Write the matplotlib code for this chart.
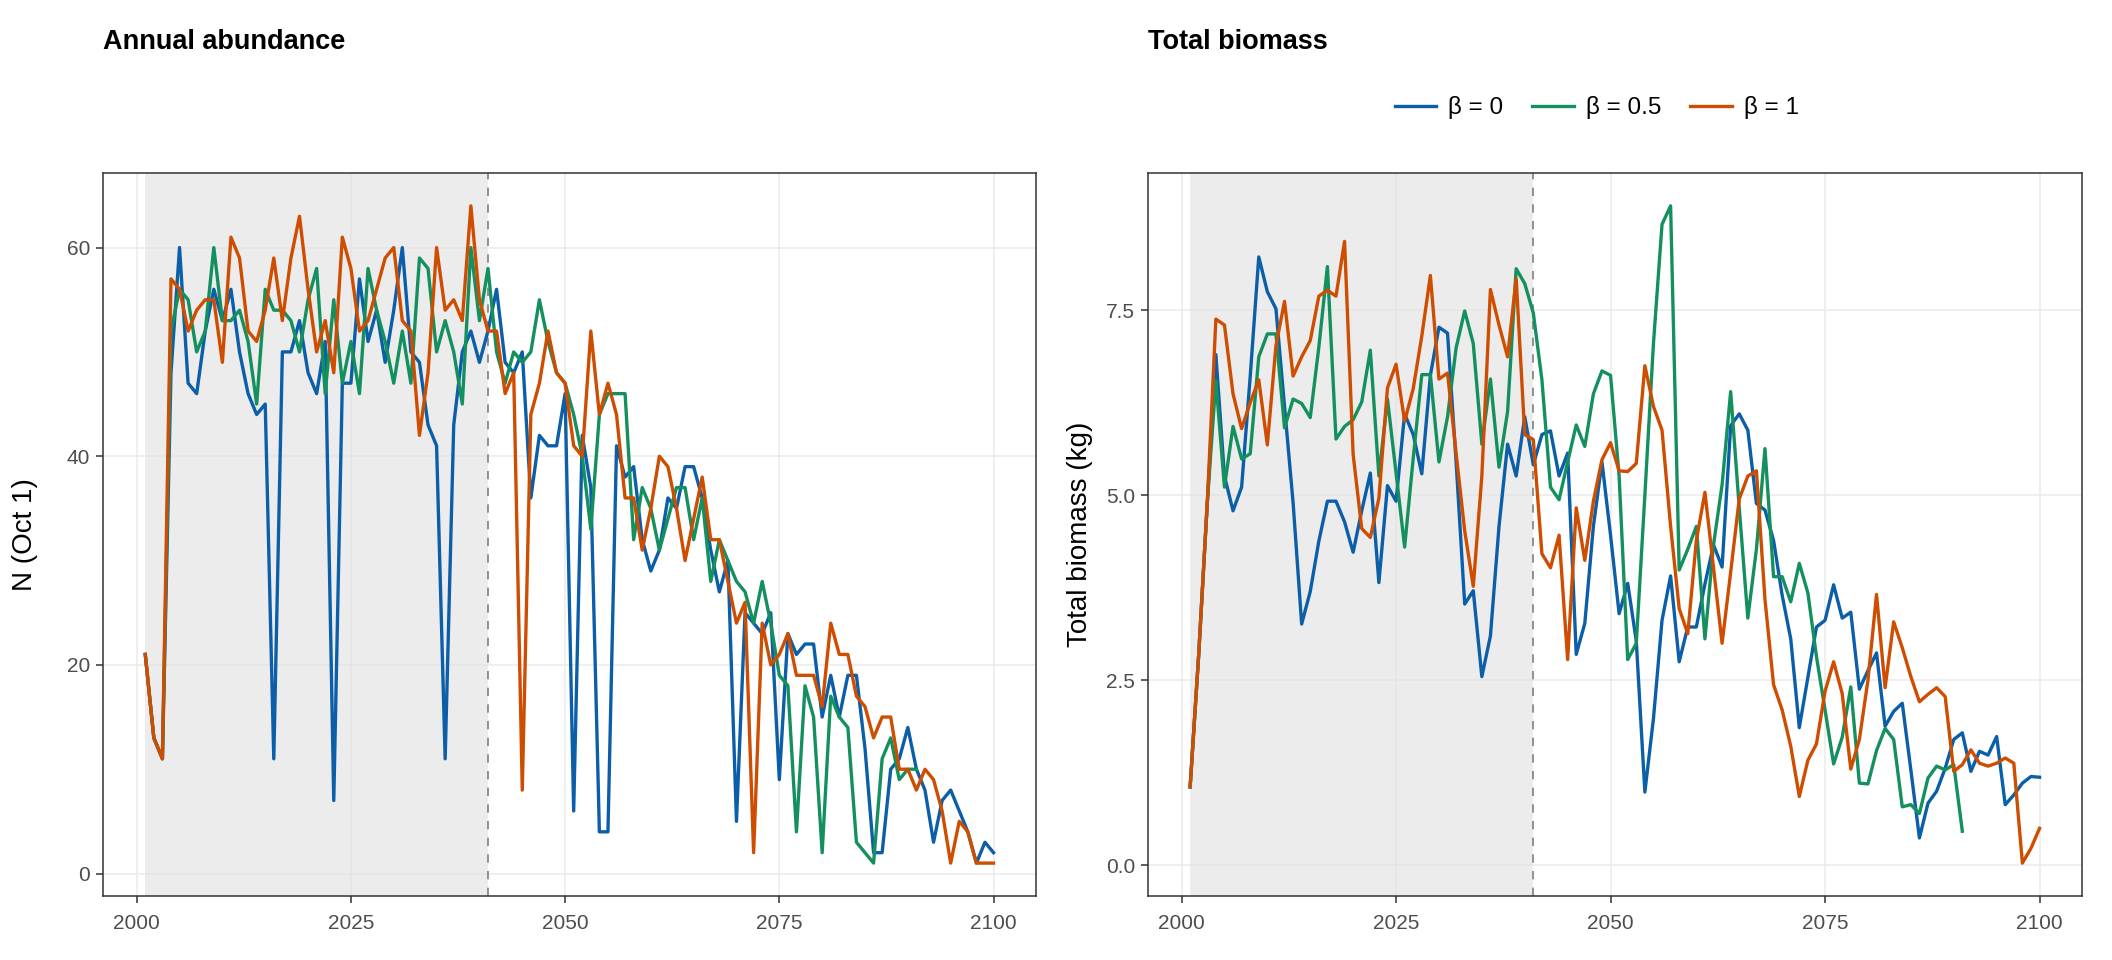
import matplotlib.pyplot as plt
from matplotlib.lines import Line2D

plt.rcParams['font.family'] = ['Liberation Sans', 'DejaVu Sans']

# Data
years = list(range(2001, 2101))
projection_start = 2041

abund_b0 = [21, 13, 11, 48, 60, 47, 46, 52, 56, 53,
            56, 50, 46, 44, 45, 11, 50, 50, 53, 48,
            46, 51, 7, 47, 47, 57, 51, 54, 49, 54,
            60, 50, 49, 43, 41, 11, 43, 50, 52, 49,
            52, 56, 49, 48, 50, 36, 42, 41, 41, 46,
            6, 42, 37, 4, 4, 41, 38, 39, 32, 29,
            31, 36, 35, 39, 39, 36, 31, 27, 30, 5,
            25, 24, 23, 25, 9, 23, 21, 22, 22, 15,
            19, 15, 19, 19, 12, 2, 2, 10, 11, 14,
            10, 8, 3, 7, 8, 6, 4, 1, 3, 2]
abund_b05 = [21, 13, 11, 52, 56, 55, 50, 52, 60, 53,
             53, 54, 51, 45, 56, 54, 54, 53, 50, 55,
             58, 46, 55, 47, 51, 46, 58, 54, 51, 47,
             52, 47, 59, 58, 50, 53, 50, 45, 60, 53,
             58, 50, 47, 50, 49, 50, 55, 51, 48, 47,
             44, 40, 33, 44, 46, 46, 46, 32, 37, 35,
             31, 34, 37, 37, 32, 36, 28, 32, 30, 28,
             27, 24, 28, 24, 19, 18, 4, 18, 15, 2,
             17, 15, 14, 3, 2, 1, 11, 13, 9, 10, 10]
abund_b1 = [21, 13, 11, 57, 56, 52, 54, 55, 55, 49,
            61, 59, 52, 51, 54, 59, 53, 59, 63, 56,
            50, 53, 48, 61, 58, 52, 53, 56, 59, 60,
            53, 52, 42, 48, 60, 54, 55, 53, 64, 55,
            52, 52, 46, 48, 8, 44, 47, 52, 48, 47,
            41, 40, 52, 44, 47, 44, 36, 36, 31, 35,
            40, 39, 35, 30, 34, 38, 32, 32, 28, 24,
            26, 2, 24, 20, 21, 23, 19, 19, 19, 16,
            24, 21, 21, 17, 16, 13, 15, 15, 10, 10,
            8, 10, 9, 6, 1, 5, 4, 1, 1, 1]

biomass_b0 = [1.06, 2.85, 4.9, 6.9, 5.26, 4.79, 5.11, 6.6, 8.22, 7.75,
              7.52, 6.2, 4.9, 3.26, 3.7, 4.38, 4.92, 4.92, 4.64, 4.23,
              4.79, 5.3, 3.82, 5.13, 4.92, 6.1, 5.82, 5.29, 6.62, 7.27,
              7.19, 5.45, 3.53, 3.71, 2.55, 3.1, 4.58, 5.69, 5.26, 6.06,
              5.41, 5.82, 5.87, 5.26, 5.57, 2.85, 3.27, 4.58, 5.45, 4.46,
              3.4, 3.81, 3.03, 0.99, 1.98, 3.31, 3.91, 2.75, 3.22, 3.22,
              3.8, 4.33, 4.03, 5.94, 6.1, 5.88, 4.89, 4.8, 4.39, 3.65,
              3.06, 1.86, 2.54, 3.22, 3.31, 3.79, 3.34, 3.42, 2.38, 2.63,
              2.87, 1.88, 2.08, 2.19, 1.29, 0.37, 0.84, 1.0, 1.31, 1.7,
              1.79, 1.27, 1.54, 1.49, 1.74, 0.82, 0.95, 1.11, 1.2, 1.19]
biomass_b05 = [1.06, 2.85, 4.9, 6.55, 5.11, 5.93, 5.49, 5.56, 6.87, 7.18,
               7.18, 5.91, 6.3, 6.24, 6.05, 7.0, 8.09, 5.76, 5.93, 6.02,
               6.26, 6.96, 5.26, 6.3, 5.3, 4.3, 5.5, 6.63, 6.63, 5.45,
               6.06, 6.99, 7.49, 7.05, 5.69, 6.57, 5.38, 6.13, 8.06, 7.86,
               7.46, 6.56, 5.11, 4.94, 5.45, 5.95, 5.66, 6.37, 6.68, 6.62,
               5.26, 2.78, 3.0, 5.0, 7.05, 8.66, 8.91, 3.99, 4.27, 4.58,
               3.06, 4.33, 5.14, 6.4, 4.83, 3.34, 4.27, 5.63, 3.9, 3.9,
               3.56, 4.08, 3.68, 2.82, 2.1, 1.37, 1.73, 2.41, 1.11, 1.1,
               1.55, 1.85, 1.7, 0.79, 0.82, 0.7, 1.18, 1.34, 1.29, 1.36, 0.46]
biomass_b1 = [1.06, 2.85, 4.9, 7.38, 7.3, 6.37, 5.9, 6.25, 6.56, 5.68,
              7.02, 7.62, 6.61, 6.87, 7.09, 7.69, 7.77, 7.69, 8.43, 5.55,
              4.55, 4.43, 4.96, 6.45, 6.77, 6.0, 6.44, 7.15, 7.97, 6.57,
              6.65, 5.57, 4.52, 3.77, 5.26, 7.78, 7.3, 6.87, 7.93, 5.82,
              5.75, 4.21, 4.02, 4.46, 2.78, 4.83, 4.12, 4.92, 5.48, 5.71,
              5.33, 5.32, 5.43, 6.75, 6.2, 5.88, 4.58, 3.47, 3.13, 4.39,
              5.04, 4.02, 3.0, 3.96, 4.95, 5.26, 5.33, 3.59, 2.44, 2.1,
              1.61, 0.93, 1.42, 1.64, 2.35, 2.75, 2.32, 1.3, 1.7, 2.5,
              3.66, 2.4, 3.29, 2.94, 2.55, 2.21, 2.31, 2.4, 2.28, 1.27,
              1.36, 1.56, 1.38, 1.34, 1.38, 1.45, 1.38, 0.03, 0.23, 0.5]

series_labels = ['β = 0', 'β = 0.5', 'β = 1']
x_ticks = [2000, 2025, 2050, 2075, 2100]
abund_ticks = [0, 20, 40, 60]
biomass_ticks = [0.0, 2.5, 5.0, 7.5]
biomass_tick_labels = ['0.0', '2.5', '5.0', '7.5']

colors = ['#0B5EA8', '#14905F', '#CF4D00']


def draw_panel(ax, series, ylabel, yticks, yticklabels, label_x):
    # shaded calibration period + dashed start of projection
    ax.axvspan(years[0], projection_start, facecolor='#E0E0E0', alpha=0.6,
               lw=0, zorder=0.6)
    ax.axvline(projection_start, color='#7F7F7F', lw=1.2,
               ls=(0, (5, 5)), zorder=2.5)
    for vals, col, lab in zip(series, colors, series_labels):
        ax.plot(years[:len(vals)], vals, color=col, lw=2.4, label=lab,
                zorder=3)

    # ggplot-like 5% expansion
    allv = [v for s in series for v in s]
    lo, hi = min(allv), max(allv)
    pad = 0.05 * (hi - lo)
    ax.set_ylim(lo - pad, hi + pad)
    xpad = 0.05 * (years[-1] - years[0])
    ax.set_xlim(years[0] - xpad, years[-1] + xpad)

    ax.set_xticks(x_ticks)
    ax.set_yticks(yticks)
    ax.set_yticklabels(yticklabels)
    ax.grid(True, color='#EBEBEB', lw=1.1)
    ax.set_axisbelow(True)
    ax.tick_params(labelsize=15, colors='#333333', labelcolor='#4D4D4D',
                   length=5, width=1.1, pad=4)
    ax.tick_params(axis='x', pad=8)
    for sp in ax.spines.values():
        sp.set_color('#333333')
        sp.set_linewidth(1.1)
    ax.set_ylabel(ylabel, fontsize=20)
    ax.yaxis.set_label_coords(label_x, 0.5)


fig = plt.figure(figsize=(21.12, 9.6), dpi=100)
ax1 = fig.add_axes([0.0487, 0.0667, 0.4418, 0.7531])
ax2 = fig.add_axes([0.5434, 0.0667, 0.4424, 0.7531])

draw_panel(ax1, [abund_b0, abund_b05, abund_b1], 'N (Oct 1)',
           abund_ticks, [str(t) for t in abund_ticks], -0.07)
draw_panel(ax2, [biomass_b0, biomass_b05, biomass_b1], 'Total biomass (kg)',
           biomass_ticks, biomass_tick_labels, -0.059)

# Titles
fig.text(0.0487, 1 - 42 / 960, 'Annual abundance', fontsize=19.5,
         fontweight='bold', ha='left', va='center')
fig.text(0.5434, 1 - 42 / 960, 'Total biomass', fontsize=19.5,
         fontweight='bold', ha='left', va='center')

# Legend
handles = [Line2D([0], [0], color=c, lw=2.4) for c in colors]
fig.legend(handles, series_labels, loc='center', bbox_to_anchor=(0.756, 0.888),
           ncol=3, frameon=False, fontsize=17.5, handlelength=1.7,
           handletextpad=0.5, columnspacing=1.2)

plt.savefig('out.png', dpi=100)
plt.close()
